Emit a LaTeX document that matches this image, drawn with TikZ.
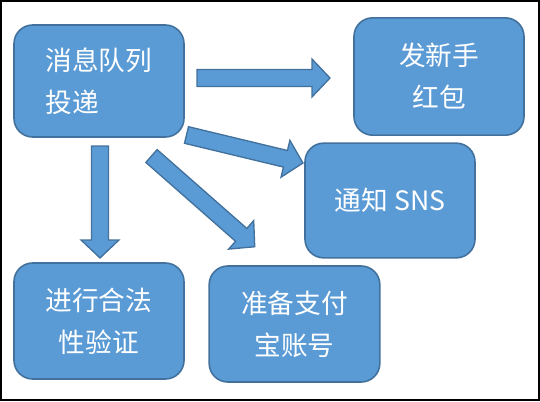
\documentclass[tikz,border=0pt]{standalone}
\usepackage{fontspec}
\setmainfont{Noto Sans CJK SC}
\usetikzlibrary{calc}
\definecolor{boxblue}{HTML}{5B9BD5}
\definecolor{boxedge}{HTML}{41719C}
\tikzset{
  task/.style={draw=boxedge, fill=boxblue, line width=1.2pt, rounded corners=14pt,
    text=white, font=\fontsize{20}{31.5}\selectfont, align=center, inner sep=0pt},
  flow/.style={draw=boxedge, fill=boxblue, line width=1pt, line join=miter}
}
% block arrow from #1 to #2
\newcommand{\blockarrow}[2]{%
  \path[flow] let \p1=($(#2)-(#1)$), \n1={atan2(\y1,\x1)}, \n2={veclen(\x1,\y1)} in
    [shift={(#1)}, rotate=\n1]
    (0pt,6.4pt) -- ({\n2*1pt-13.5pt},6.4pt) -- ({\n2*1pt-13.5pt},14.2pt) -- ({\n2*1pt},0pt)
    -- ({\n2*1pt-13.5pt},-14.2pt) -- ({\n2*1pt-13.5pt},-6.4pt) -- (0pt,-6.4pt) -- cycle;}
\begin{document}
\begin{tikzpicture}[x=0.75pt, y=-0.75pt]
  \useasboundingbox (0,0) rectangle (540,401);
  \draw[line width=1.2pt] (1,1) rectangle (539,400);
  \node[task, align=left, minimum width=127.5pt, minimum height=84pt] (mq) at (99,81) {消息队列\\投递};
  \node[task, minimum width=127.5pt, minimum height=88pt] (hongbao) at (439,76.5) {发新手\\红包};
  \node[task, minimum width=127.5pt, minimum height=86pt] (sns) at (390,200.5) {通知 SNS};
  \node[task, minimum width=127.5pt, minimum height=87pt] (check) at (99,321) {进行合法\\性验证};
  \node[task, minimum width=128pt, minimum height=87pt] (alipay) at (294.5,324) {准备支付\\宝账号};
  \coordinate (t1) at (197,78);    \coordinate (h1) at (330,78);
  \coordinate (t2) at (186.5,135); \coordinate (h2) at (303,163);
  \coordinate (t3) at (100,146);   \coordinate (h3) at (100,258);
  \coordinate (t4) at (151.5,156); \coordinate (h4) at (255,247);
  \blockarrow{t1}{h1}
  \blockarrow{t2}{h2}
  \blockarrow{t3}{h3}
  \blockarrow{t4}{h4}
\end{tikzpicture}
\end{document}
